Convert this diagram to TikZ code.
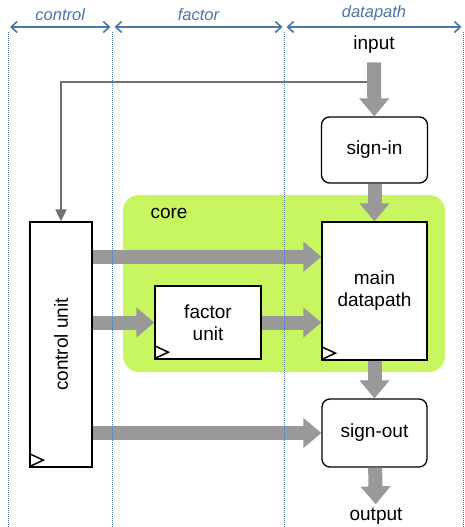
\documentclass[tikz,border=0pt]{standalone}
\usepackage{fontspec}
\setmainfont{Liberation Sans}
\usetikzlibrary{arrows.meta}
\usetikzlibrary{calc}
\usetikzlibrary{positioning}

\definecolor{coregreen}{RGB}{200,246,96}
\definecolor{busgray}{RGB}{153,153,153}
\definecolor{wiregray}{RGB}{112,112,112}
\definecolor{zoneblue}{RGB}{74,118,168}

\newcommand{\clocktick}[1]{\draw[line width=1.5pt] ([yshift=1pt]#1.south west) -- ++(14,6.5) -- ++(-14,6.5);}

\begin{document}
\begin{tikzpicture}[x=1pt, y=1pt,
    font=\fontsize{19}{22}\selectfont,
    block/.style={draw, line width=1.3pt, fill=white, align=center, inner sep=0pt},
    rblock/.style={block, rounded corners=8pt},
    bus/.style={draw=busgray, line width=14pt, -{Triangle[length=18pt, width=29pt]}},
    wire/.style={draw=wiregray, line width=2pt, -{Triangle[length=12pt, width=11pt]}},
    divider/.style={draw=zoneblue, densely dotted, line width=1pt},
    zone/.style={draw=zoneblue, line width=1.6pt,
      {Straight Barb[length=6pt, width=11pt]}-{Straight Barb[length=6pt, width=11pt]},
      shorten <=2pt, shorten >=2pt},
    zonelabel/.style={text=zoneblue, font=\fontsize{16.5}{18}\selectfont\itshape}
  ]
  \useasboundingbox (0,0) rectangle (465,-527);

  \node[fill=coregreen, rounded corners=16pt, minimum width=322pt, minimum height=177pt] (core) at (284,-283.5) {};
  \node[anchor=west] (corelabel) at (147,-213) {core};

  \node (input) at (374,-45) {input};
  \node[rblock, minimum width=106pt, minimum height=66pt] (signin) at (374.5,-150) {sign-in};
  \node[block, minimum width=62pt, minimum height=245pt] (ctrl) at (61,-344.5) {};
  \node[rotate=90] (ctrllabel) at (ctrl) {control unit};
  \node[block, minimum width=105pt, minimum height=138pt] (main) at (374.5,-291) {main\\datapath};
  \node[block, minimum width=106pt, minimum height=73pt] (factor) at (208,-322.5) {factor\\unit};
  \node[rblock, minimum width=105pt, minimum height=68pt] (signout) at (374.5,-433) {sign-out};
  \node (output) at (376,-516) {output};

  \clocktick{ctrl}
  \clocktick{factor}
  \clocktick{main}

  \coordinate (split) at (signin |- 0,-82);
  \coordinate (m_in1) at ($(main.north west)!0.254!(main.south west)$);

  \draw[wire] (split) -| (ctrl.north);
  \draw[bus, shorten <=5pt] (input) -- (signin);
  \draw[bus] (signin) -- (main);
  \draw[bus] (main) -- (signout);
  \draw[bus] (signout) -- (output);
  \draw[bus] (ctrl.east |- m_in1) -- (m_in1);
  \draw[bus] (ctrl.east |- factor) -- (factor);
  \draw[bus] (factor) -- (factor -| main.west);
  \draw[bus] (ctrl.east |- signout) -- (signout);

  \coordinate (z0) at (8,-27);
  \coordinate (z1) at (112.5,-27);
  \coordinate (z2) at (284.5,-27);
  \coordinate (z3) at (463.5,-27);
  \foreach \z in {z0,z1,z2,z3}
    \draw[divider] ([yshift=-5pt]\z) -- (\z |- 0,-527);

  \draw[zone] (z0) -- (z1) node[midway, above=2pt, zonelabel] (ctrlzone) {control};
  \draw[zone] (z1) -- (z2) node[midway, above=2pt, zonelabel] (factorzone) {factor};
  \draw[zone] (z2) -- (z3) node[midway, above=2pt, zonelabel] (datazone) {datapath};
\end{tikzpicture}
\end{document}
